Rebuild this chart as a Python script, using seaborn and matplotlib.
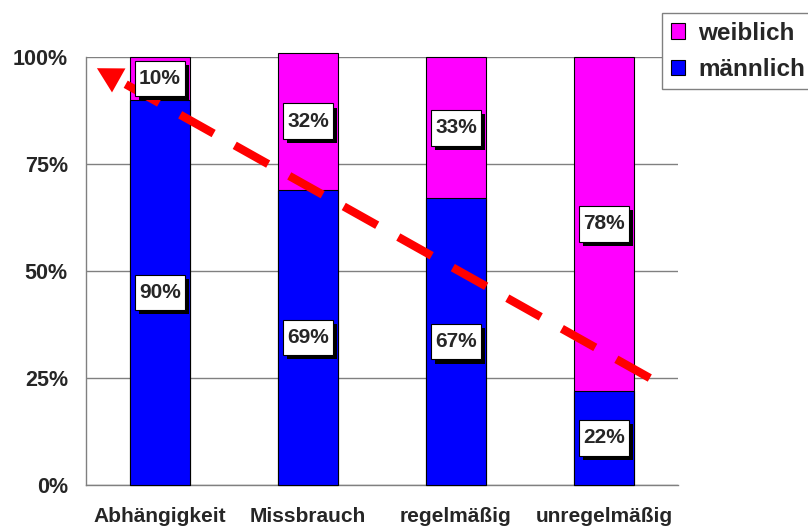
import pandas as pd
import matplotlib
matplotlib.use('Agg')
import matplotlib.pyplot as plt
import matplotlib.patheffects as pe
from matplotlib.patches import Patch
from matplotlib.path import Path
import seaborn as sns

categories = ['Abhängigkeit', 'Missbrauch', 'regelmäßig', 'unregelmäßig']
maennlich = [90, 69, 67, 22]
weiblich = [10, 32, 33, 78]
y_ticks = [0, 25, 50, 75, 100]
y_labels = ['0%', '25%', '50%', '75%', '100%']

df = pd.DataFrame({'kategorie': categories, 'maennlich': maennlich, 'weiblich': weiblich})
df['gesamt'] = df['maennlich'] + df['weiblich']

sns.set_style('white')
plt.rcParams['font.family'] = ['Liberation Sans', 'DejaVu Sans']

fig = plt.figure(figsize=(8.08, 5.27), dpi=100)
ax = fig.add_axes([0.1064, 0.0797, 0.7326, 0.812])

# stacked bars: total in magenta, male part over it in blue
sns.barplot(data=df, x='kategorie', y='gesamt', color='#FF00FF', saturation=1,
            width=0.405, edgecolor='black', linewidth=0.8, ax=ax, zorder=3)
sns.barplot(data=df, x='kategorie', y='maennlich', color='#0000FF', saturation=1,
            width=0.405, edgecolor='black', linewidth=0.8, ax=ax, zorder=3)
for p in ax.patches:
    p.set_clip_on(False)

# box with small side padding and taller top/bottom padding
def label_box(x0, y0, width, height, mutation_size):
    px = 0.2 * mutation_size
    py = 0.4 * mutation_size
    return Path([(x0 - px, y0 - py), (x0 + width + px, y0 - py),
                 (x0 + width + px, y0 + height + py), (x0 - px, y0 + height + py),
                 (x0 - px, y0 - py)], closed=True)

# percentage labels in white boxes with black shadow
def box_label(x, y, txt):
    t = ax.text(x, y, txt, ha='center', va='center', fontsize=15, fontweight='bold',
                zorder=6, bbox=dict(boxstyle=label_box, fc='white', ec='black', lw=0.8))
    t.get_bbox_patch().set_path_effects([
        pe.SimplePatchShadow(offset=(3, -3), shadow_rgbFace='black', alpha=1), pe.Normal()])

for i, row in df.iterrows():
    box_label(i, row['maennlich'] / 2, f"{row['maennlich']}%")
    box_label(i, row['maennlich'] + row['weiblich'] / 2, f"{row['weiblich']}%")

# red dashed trend arrow
ax.plot([3.31, -0.27], [25, 94.4], color='red', lw=6, dashes=(4.6, 2.9),
        solid_capstyle='butt', zorder=5, clip_on=False)
ax.annotate('', xy=(-0.426, 97.4), xytext=(3.31, 25),
            arrowprops=dict(arrowstyle='-|>,head_length=0.4,head_width=0.22',
                            mutation_scale=45, fc='red', ec='none', lw=0,
                            shrinkA=0, shrinkB=0),
            zorder=5, annotation_clip=False)

ax.set_xlim(-0.5, 3.5)
ax.set_ylim(0, 100)
ax.set_yticks(y_ticks)
ax.set_yticklabels(y_labels, fontsize=15.5, fontweight='bold')
ax.set_xticks(range(len(categories)))
ax.set_xticklabels(categories, fontsize=15, fontweight='bold')
ax.set_xticks([-0.5, 0.5, 1.5, 2.5, 3.5], minor=True)
ax.tick_params(axis='x', which='major', length=0, pad=16)
ax.tick_params(axis='x', which='minor', length=7, width=1, color='gray', direction='out')
ax.tick_params(axis='y', length=7, width=1, color='gray', direction='out', pad=6)
ax.set_xlabel('')
ax.set_ylabel('')

ax.yaxis.grid(True, color='gray', lw=1)
ax.set_axisbelow(True)
sns.despine(ax=ax, top=True, right=True)
for s in ['left', 'bottom']:
    ax.spines[s].set_color('gray')
    ax.spines[s].set_linewidth(1)

handles = [Patch(fc='#FF00FF', ec='black', lw=0.8), Patch(fc='#0000FF', ec='black', lw=0.8)]
leg = fig.legend(handles, ['weiblich', 'männlich'], loc='upper left',
                 bbox_to_anchor=(662 / 808, 1 - 13 / 527), fancybox=False, framealpha=1,
                 prop={'size': 17.5, 'weight': 'bold'}, handlelength=0.6, handleheight=0.6,
                 handletextpad=0.55, borderpad=0.35, labelspacing=0.55, borderaxespad=0)
leg.get_frame().set_edgecolor('gray')
leg.get_frame().set_linewidth(1)

fig.savefig('out.png', dpi=100)
